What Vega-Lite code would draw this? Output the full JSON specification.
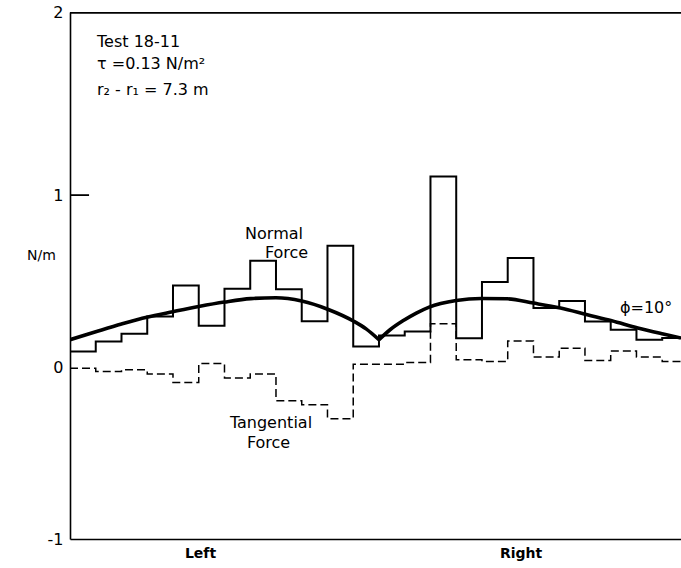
{
  "$schema": "https://vega.github.io/schema/vega-lite/v6.json",
  "autosize": "none",
  "width": 611,
  "height": 527,
  "padding": {"left": 70, "top": 12, "right": 0, "bottom": 29},
  "background": "white",
  "config": {
    "view": {"stroke": null},
    "font": "DejaVu Sans",
    "axis": {"grid": false, "ticks": false, "domainColor": "black", "domainWidth": 1.6, "labelColor": "black", "titleColor": "black"}
  },
  "datasets": {
    "frame": [{"top": 2.06}],
    "tick": [{"x": 0, "x2": 0.74, "y": 1}],
    "steps": [
      {"x": 0, "normal": 0.09, "tangential": -0.007},
      {"x": 1, "normal": 0.149, "tangential": -0.026},
      {"x": 2, "normal": 0.194, "tangential": -0.016},
      {"x": 3, "normal": 0.294, "tangential": -0.04},
      {"x": 4, "normal": 0.474, "tangential": -0.09},
      {"x": 5, "normal": 0.24, "tangential": 0.02},
      {"x": 6, "normal": 0.455, "tangential": -0.064},
      {"x": 7, "normal": 0.618, "tangential": -0.041},
      {"x": 8, "normal": 0.453, "tangential": -0.196},
      {"x": 9, "normal": 0.267, "tangential": -0.219},
      {"x": 10, "normal": 0.705, "tangential": -0.3},
      {"x": 11, "normal": 0.12, "tangential": 0.017},
      {"x": 12, "normal": 0.184, "tangential": 0.017},
      {"x": 13, "normal": 0.207, "tangential": 0.027},
      {"x": 14, "normal": 1.108, "tangential": 0.252},
      {"x": 15, "normal": 0.168, "tangential": 0.042},
      {"x": 16, "normal": 0.494, "tangential": 0.033},
      {"x": 17, "normal": 0.634, "tangential": 0.151},
      {"x": 18, "normal": 0.343, "tangential": 0.058},
      {"x": 19, "normal": 0.384, "tangential": 0.11},
      {"x": 20, "normal": 0.265, "tangential": 0.038},
      {"x": 21, "normal": 0.217, "tangential": 0.093},
      {"x": 22, "normal": 0.159, "tangential": 0.058},
      {"x": 23, "normal": 0.169, "tangential": 0.033},
      {"x": 24, "normal": 0.169, "tangential": 0.033}
    ],
    "curve": [
      {"side": "left", "x": 0, "y": 0.159},
      {"side": "left", "x": 1, "y": 0.205},
      {"side": "left", "x": 2, "y": 0.25},
      {"side": "left", "x": 2.98, "y": 0.29},
      {"side": "left", "x": 4, "y": 0.322},
      {"side": "left", "x": 5, "y": 0.352},
      {"side": "left", "x": 6, "y": 0.378},
      {"side": "left", "x": 7.02, "y": 0.398},
      {"side": "left", "x": 8, "y": 0.403},
      {"side": "left", "x": 9, "y": 0.384},
      {"side": "left", "x": 10.03, "y": 0.335},
      {"side": "left", "x": 11.04, "y": 0.265},
      {"side": "left", "x": 11.5, "y": 0.222},
      {"side": "left", "x": 12, "y": 0.159},
      {"side": "right", "x": 12, "y": 0.159},
      {"side": "right", "x": 12.43, "y": 0.217},
      {"side": "right", "x": 12.93, "y": 0.269},
      {"side": "right", "x": 13.45, "y": 0.314},
      {"side": "right", "x": 13.95, "y": 0.349},
      {"side": "right", "x": 15, "y": 0.387},
      {"side": "right", "x": 15.97, "y": 0.399},
      {"side": "right", "x": 16.98, "y": 0.397},
      {"side": "right", "x": 18, "y": 0.372},
      {"side": "right", "x": 19.05, "y": 0.343},
      {"side": "right", "x": 20.09, "y": 0.304},
      {"side": "right", "x": 21.04, "y": 0.269},
      {"side": "right", "x": 22.05, "y": 0.227},
      {"side": "right", "x": 23.04, "y": 0.192},
      {"side": "right", "x": 23.73, "y": 0.169}
    ],
    "labels": [
      {"x": 1.05, "y": 1.89, "text": "Test 18-11"},
      {"x": 1.05, "y": 1.76, "text": "τ =0.13  N/m²"},
      {"x": 1.05, "y": 1.61, "text": "r₂ - r₁ = 7.3 m"},
      {"x": 6.8, "y": 0.775, "text": "Normal"},
      {"x": 7.57, "y": 0.665, "text": "Force"},
      {"x": 6.21, "y": -0.324, "text": "Tangential"},
      {"x": 6.87, "y": -0.44, "text": "Force"},
      {"x": 21.36, "y": 0.345, "text": "ϕ=10°"}
    ]
  },
  "layer": [
    {
      "mark": {"type": "rule", "color": "black", "strokeWidth": 1.2},
      "encoding": {
        "y": {"datum": 0, "type": "quantitative",
          "scale": {"domain": [-1, 2.065], "nice": false, "zero": false},
          "axis": {"orient": "left", "values": [-1, 0, 1, 2.065],
            "labelExpr": "datum.value > 2 ? '2' : (datum.value < -0.5 ? '-1' : (datum.value > 0.5 ? '1' : '0'))",
            "labelFontSize": 16, "labelPadding": 7,
            "title": "N/m", "titleAngle": 0, "titleFontSize": 14, "titleFontWeight": "normal",
            "titleAlign": "center", "titleBaseline": "middle", "titleX": -29, "titleY": 243}}
      }
    },
    {
      "data": {"name": "frame"},
      "mark": {"type": "rule", "color": "black", "strokeWidth": 1.8},
      "encoding": {"y": {"field": "top", "type": "quantitative"}}
    },
    {
      "mark": {"type": "rule", "color": "black", "strokeWidth": 1.3},
      "encoding": {
        "x": {"datum": 12, "type": "quantitative",
          "scale": {"domain": [0, 23.73], "nice": false, "zero": false},
          "axis": {"orient": "bottom", "values": [5.05, 17.5],
            "labelExpr": "datum.value < 10 ? 'Left' : 'Right'",
            "labelFontSize": 14, "labelFontWeight": "bold", "labelPadding": 7, "title": null}}
      }
    },
    {
      "data": {"name": "tick"},
      "mark": {"type": "rule", "color": "black", "strokeWidth": 1.8},
      "encoding": {
        "x": {"field": "x", "type": "quantitative"},
        "x2": {"field": "x2"},
        "y": {"field": "y", "type": "quantitative"}
      }
    },
    {
      "data": {"name": "steps"},
      "mark": {"type": "line", "interpolate": "step-after", "color": "black", "strokeWidth": 2, "clip": true},
      "encoding": {
        "x": {"field": "x", "type": "quantitative"},
        "y": {"field": "normal", "type": "quantitative"}
      }
    },
    {
      "data": {"name": "steps"},
      "mark": {"type": "line", "interpolate": "step-after", "color": "black", "strokeWidth": 1.5, "strokeDash": [8, 4], "clip": true},
      "encoding": {
        "x": {"field": "x", "type": "quantitative"},
        "y": {"field": "tangential", "type": "quantitative"}
      }
    },
    {
      "data": {"name": "curve"},
      "mark": {"type": "line", "interpolate": "monotone", "color": "black", "strokeWidth": 3.6, "clip": true},
      "encoding": {
        "x": {"field": "x", "type": "quantitative"},
        "y": {"field": "y", "type": "quantitative"},
        "detail": {"field": "side"}
      }
    },
    {
      "data": {"name": "labels"},
      "mark": {"type": "text", "align": "left", "baseline": "middle", "fontSize": 16, "color": "black"},
      "encoding": {
        "x": {"field": "x", "type": "quantitative"},
        "y": {"field": "y", "type": "quantitative"},
        "text": {"field": "text"}
      }
    }
  ]
}
